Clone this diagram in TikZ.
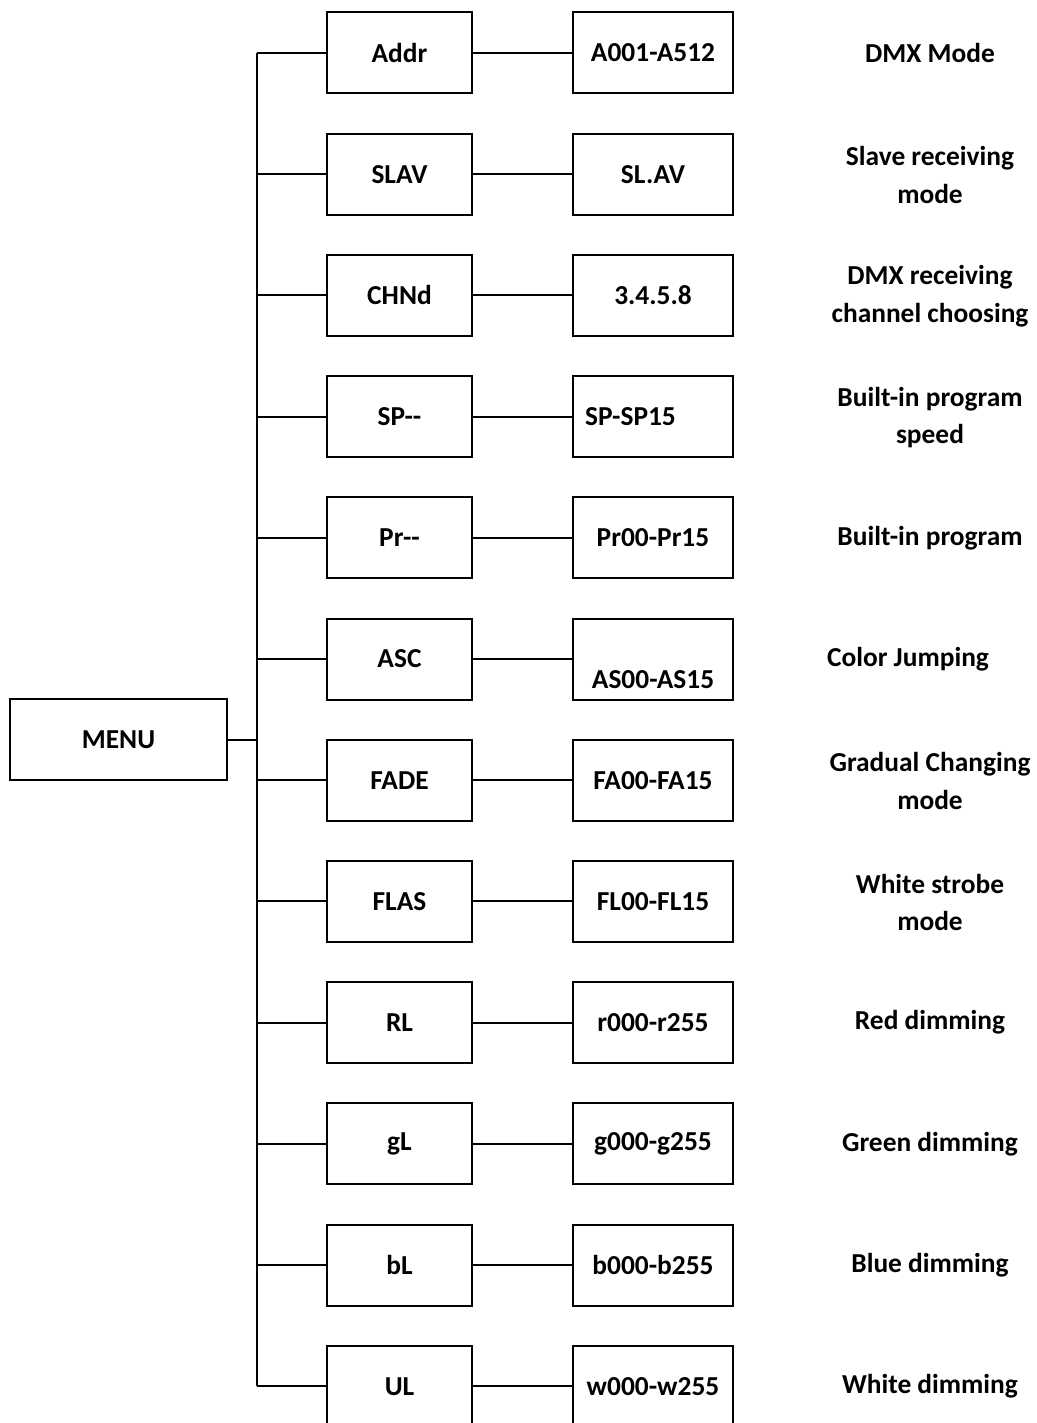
\documentclass[tikz,border=0pt]{standalone}
\usepackage{fontspec}
\setmainfont{Carlito}
\begin{document}
\begin{tikzpicture}[x=1pt,y=-1pt,
  every node/.style={font=\fontsize{27.4}{37.7}\selectfont\bfseries},
  lbox/.style={draw,line width=2pt,minimum width=145pt,minimum height=81pt,inner sep=0pt},
  rbox/.style={draw,line width=2pt,minimum width=160pt,minimum height=81pt,inner sep=0pt},
  mbox/.style={draw,line width=2pt,minimum width=217pt,minimum height=81pt,inner sep=0pt},
  desc/.style={align=center,inner sep=0pt},
  conn/.style={line width=2pt}]
\useasboundingbox (0,0) rectangle (1036,1423);
% MENU
\node[mbox] (menu) at (118.5,739.5) {MENU};
% rows
\foreach \i/\a/\b in {0/Addr/A001-A512, 1/SLAV/SL.AV, 2/CHNd/3.4.5.8,
  3/{SP-{}-}/{}, 4/{Pr-{}-}/Pr00-Pr15, 5/ASC/{}, 6/FADE/FA00-FA15,
  7/FLAS/FL00-FL15, 8/RL/r000-r255, 9/gL/g000-g255, 10/bL/b000-b255,
  11/UL/w000-w255}{
  \coordinate (b\i) at (257,53+121.2*\i);
  \node[lbox] (l\i) at (399.5,53+121.2*\i) {\a};
  \node[rbox] (r\i) at (653,53+121.2*\i) {\b};
}
% off-centre texts
\node[anchor=west,inner sep=0pt] (r3t) at ([xshift=13pt]r3.west) {SP-SP15};
\node[inner sep=0pt] (r5t) at ([yshift=-21pt]r5.center) {AS00-AS15};
% descriptions
\node[desc] (d0) at (930,53) {DMX Mode};
\node[desc] (d1) at (930,175.2) {Slave receiving\\mode};
\node[desc] (d2) at (930,296.4) {DMX receiving\\channel choosing};
\node[desc] (d3) at (930,417.6) {Built-in program\\speed};
\node[desc] (d4) at (930,537.8) {Built-in program};
\node[desc] (d5) at (908,659) {Color Jumping};
\node[desc] (d6) at (930,781.2) {Gradual Changing\\mode};
\node[desc] (d7) at (930,902.4) {White strobe\\mode};
\node[desc] (d8) at (930,1022.6) {Red dimming};
\node[desc] (d9) at (930,1143.8) {Green dimming};
\node[desc] (d10) at (930,1265) {Blue dimming};
\node[desc] (d11) at (930,1386.2) {White dimming};
% connectors
\draw[conn] (b0) -- (b11);
\draw[conn] (menu.east) -- (menu.east -| b0);
\foreach \i in {0,...,11}{
  \draw[conn] (b\i) -- (l\i.west);
  \draw[conn] (l\i.east) -- (r\i.west);
}
\end{tikzpicture}
\end{document}
